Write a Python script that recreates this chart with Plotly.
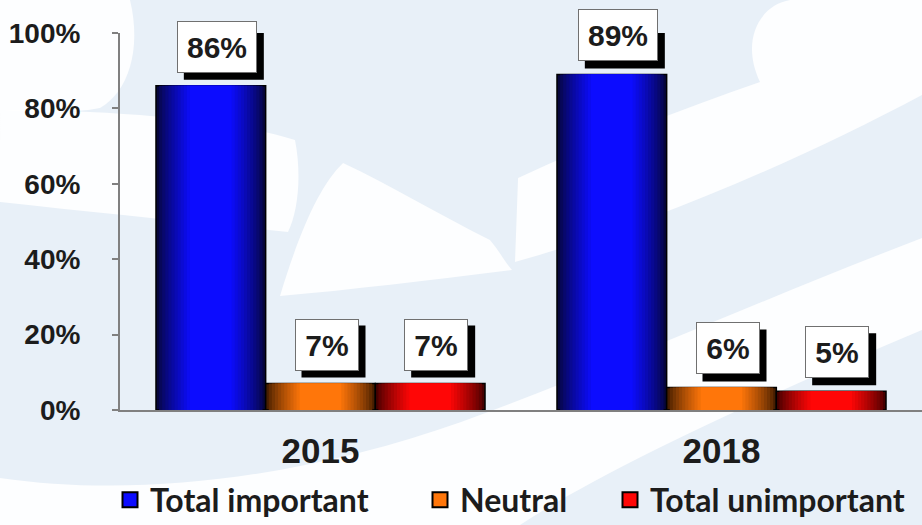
import plotly.graph_objects as go

# ---------------- data ----------------
years = ["2015", "2018"]
series_names = ["Total important", "Neutral", "Total unimportant"]
important = [0.86, 0.89]
neutral = [0.07, 0.06]
unimportant = [0.07, 0.05]
y_tick_vals = [0, 0.2, 0.4, 0.6, 0.8, 1.0]
y_tick_text = ["0%", "20%", "40%", "60%", "80%", "100%"]

# ---------------- layout constants ----------------
W, H = 922, 525
ML, MR, MT, MB = 120, 0, 33, 115
PW, PH = W - ML - MR, H - MT - MB

BAR_W = 0.2735
offsets = [-BAR_W, 0.0, BAR_W]
colors = [  # (edge dark, centre bright)
    ((6, 6, 60), (12, 12, 255)),
    ((70, 30, 0), (255, 118, 10)),
    ((70, 0, 0), (255, 6, 6)),
]
values = [important, neutral, unimportant]

def rgb(c):
    return "rgb(%d,%d,%d)" % tuple(int(round(v)) for v in c)

def lerp(a, b, t):
    return tuple(a[i] + (b[i] - a[i]) * t for i in range(3))

fig = go.Figure()

N = 12
for s, name in enumerate(series_names):
    dark, bright = colors[s]
    for k in range(N):
        frac = 1 - 0.62 * k / (N - 1)
        t = (k / (N - 1)) ** 0.8
        w = BAR_W * frac
        fig.add_trace(go.Bar(
            x=years, y=values[s],
            width=[w] * len(years),
            offset=[offsets[s] - w / 2] * len(years),
            marker=dict(color=rgb(lerp(dark, bright, t)),
                        line=dict(color="black", width=1.5 if k == 0 else 0)),
            showlegend=False, hoverinfo="skip", name=name,
        ))

# legend-only entries (one legend box per entry so they can be placed freely)
legend_ids = ["legend", "legend2", "legend3"]
legend_text_px = [150, 460, 650]
for s, name in enumerate(series_names):
    fig.add_trace(go.Scatter(
        x=[None], y=[None], mode="markers", name=name,
        marker=dict(symbol="square", size=15, color=rgb(colors[s][1]),
                    line=dict(color="black", width=2)),
        legend=legend_ids[s],
    ))

# value labels in boxes with a drop shadow (shadow = pixel-sized shape anchored at the bar top)
LBL_GAP, LBL_DX, SH = 13, 6, 7
ann, shapes = [], []
for s in range(3):
    for i, v in enumerate(values[s]):
        txt = "%d%%" % round(v * 100)
        xpos = i + offsets[s]
        bw, bh = 16 * len(txt) + 32, 52
        shapes.append(dict(type="rect", xref="x", yref="y", xsizemode="pixel", ysizemode="pixel",
                           xanchor=xpos, yanchor=v,
                           x0=LBL_DX - bw / 2 + SH, x1=LBL_DX + bw / 2 + SH,
                           y0=LBL_GAP - SH, y1=LBL_GAP + bh - SH,
                           fillcolor="black", line=dict(width=0), layer="above"))
        ann.append(dict(x=xpos, y=v, xref="x", yref="y", text=txt, showarrow=False,
                        yanchor="bottom", xanchor="center", width=bw - 2, height=bh - 2,
                        borderpad=0, borderwidth=1, bgcolor="white", bordercolor="#707070",
                        xshift=LBL_DX, yshift=LBL_GAP, valign="middle", align="center",
                        font=dict(family="Liberation Sans", size=30, weight="bold",
                                  color="#1c1c1c")))

# background watermark (decoration, pixel coordinates converted to paper units)
def px(x):
    return (x - ML) / PW

def py(y):
    return (H - MB - y) / PH

def path(cmds):
    out = []
    for c in cmds:
        op, pts = c[0], c[1:]
        out.append(op + " ".join("%.4f,%.4f" % (px(a), py(b)) for a, b in pts))
    return " ".join(out) + " Z"

wm = [
    [("M", (0, 0)), ("L", (130, 0)), ("C", (142, 50), (128, 92), (100, 108)),
     ("C", (70, 114), (30, 112), (0, 110))],
    [("M", (0, 110)), ("C", (120, 110), (230, 120), (295, 140)),
     ("C", (302, 175), (298, 212), (288, 232)), ("C", (190, 222), (90, 212), (0, 202))],
    [("M", (280, 296)), ("C", (300, 230), (320, 185), (343, 163)),
     ("C", (390, 185), (440, 215), (490, 240)), ("C", (500, 252), (505, 262), (512, 270)),
     ("C", (430, 280), (350, 290), (280, 296))],
    [("M", (515, 262)), ("L", (518, 178)), ("C", (600, 140), (680, 110), (760, 82)),
     ("C", (740, 40), (760, 5), (790, 0)), ("L", (922, 0)), ("L", (922, 95)),
     ("C", (800, 160), (650, 225), (515, 262))],
    [("M", (0, 478)), ("C", (150, 500), (320, 472), (461, 422)),
     ("C", (600, 372), (760, 300), (922, 238)), ("L", (922, 330)),
     ("C", (780, 390), (620, 460), (520, 525)), ("L", (0, 525))],
]
shapes = [dict(type="path", xref="paper", yref="paper", path=path(p),
               fillcolor="white", line=dict(width=0), layer="below", opacity=0.88)
          for p in wm] + shapes

legend_cfg = {}
for s, lid in enumerate(legend_ids):
    legend_cfg[lid] = dict(
        x=px(legend_text_px[s] - 40), y=py(500), xanchor="left", yanchor="middle",
        orientation="h", bgcolor="rgba(0,0,0,0)", borderwidth=0,
        font=dict(family="Lato", size=32, weight="bold", color="#1c1c1c"),
        itemclick=False, itemdoubleclick=False,
    )

fig.update_layout(
    width=W, height=H, margin=dict(l=ML, r=MR, t=MT, b=MB, pad=0, autoexpand=False),
    paper_bgcolor="#e8f0f8", plot_bgcolor="rgba(0,0,0,0)",
    barmode="overlay", showlegend=True,
    annotations=ann, shapes=shapes,
    xaxis=dict(type="category", range=[-0.5, 1.5], showline=True, linecolor="#808080",
               linewidth=2, ticks="", showgrid=False, zeroline=False,
               tickfont=dict(family="Liberation Sans", size=35, weight="bold", color="#1c1c1c"),
               ticklabelstandoff=9, fixedrange=True),
    yaxis=dict(range=[0, 1], tickvals=y_tick_vals, ticktext=y_tick_text, showline=True,
               linecolor="#808080", linewidth=2, ticks="outside", ticklen=6, tickwidth=2,
               tickcolor="#808080", showgrid=False, zeroline=False,
               tickfont=dict(family="Liberation Sans", size=28, weight="bold", color="#1c1c1c"),
               ticklabelstandoff=26, fixedrange=True),
    **legend_cfg,
)

fig.write_html("out.html", config={"displayModeBar": False},
               post_script="document.body.style.margin='0';document.body.style.padding='0';")
